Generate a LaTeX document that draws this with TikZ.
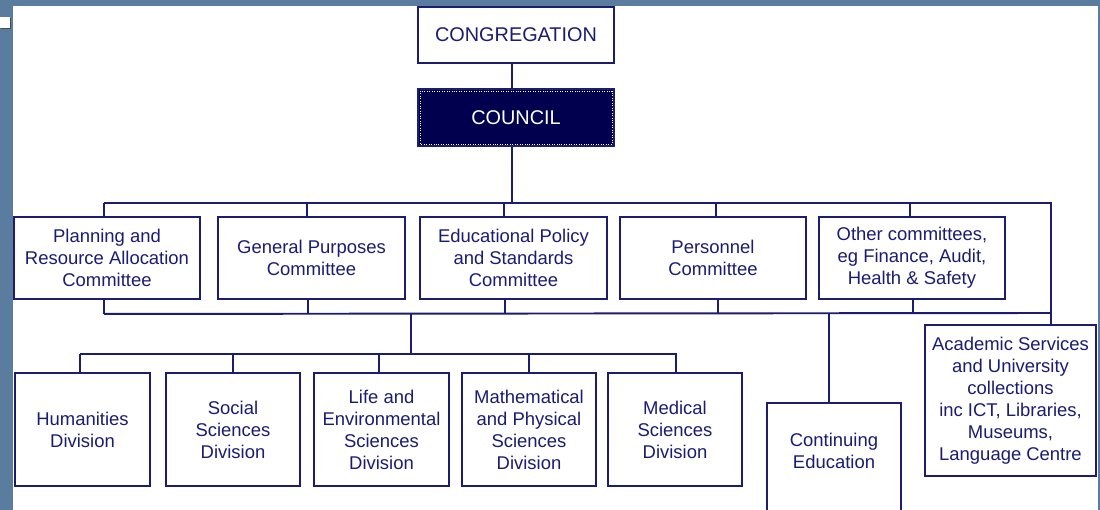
\documentclass[tikz,border=0pt]{standalone}
\usepackage{fontspec}
\setmainfont{Liberation Sans}
\usetikzlibrary{calc}
\definecolor{orgnavy}{RGB}{28,28,112}
\definecolor{councilfill}{RGB}{0,0,78}
\definecolor{slideblue}{RGB}{90,124,158}
\newcommand{\pxu}{0.02cm}

\begin{document}
\begin{tikzpicture}[x=0.02cm,y=-0.02cm]
      \tikzset{unit/.style={draw=orgnavy,
          line width=1.1pt,
          fill=white,
          text=orgnavy,
          align=center,
          inner sep=1pt,
          font=\fontsize{10.5}{12.5}\selectfont},
        committee/.style={unit, minimum width=186*\pxu, minimum height=82*\pxu},
        division/.style={unit, minimum width=134*\pxu, minimum height=113*\pxu},
        link/.style={draw=orgnavy, line width=1.1pt}
      }
      \path [use as bounding box] (0,0) rectangle (1100,510);
      \clip (0,0) rectangle (1100,510);
      % slide background
      \fill [slideblue] (0,0) rectangle (1100,510);
      \fill [white] (13,6) rectangle (1098,510);
      \fill [black!70] (1,18.5) rectangle (11,29);
      \fill [white] (0,17) rectangle (10,28);

      \node [unit, minimum width=196*\pxu, minimum height=56*\pxu, font=\fontsize{11.3}{13}\selectfont] (cong) at (516,35) {CONGREGATION};
      \node [unit, fill=councilfill, text=white, minimum width=196*\pxu, minimum height=57*\pxu, font=\fontsize{11.3}{13}\selectfont] (council) at (516,117.5) {COUNCIL};
      \draw [white, densely dotted, line width=0.4pt] ($(council.north west)+(3,3)$) rectangle ($(council.south east)+(-3,-3)$);

      % committees
      \node [committee] (plan) at (107,258) {Planning and\\Resource Allocation\\Committee};
      \node [committee, minimum width=187*\pxu] (gen) at (311.5,258) {General Purposes\\Committee};
      \node [committee, minimum width=187*\pxu] (edu) at (513.5,258) {Educational Policy\\and Standards\\Committee};
      \node [committee] (pers) at (713,258) {Personnel\\Committee};
      \node [committee] (other) at (912,258) {Other committees,\\eg Finance, Audit,\\Health \& Safety};

      % divisions
      \node [division, minimum width=135*\pxu] (hum) at (82.5,429.5) {Humanities\\Division};
      \node [division] (soc) at (233,429.5) {Social\\Sciences\\Division};
      \node [division, minimum width=135*\pxu] (life) at (381.5,429.5) {Life and\\Environmental\\Sciences\\Division};
      \node [division] (math) at (529,429.5) {Mathematical\\and Physical\\Sciences\\Division};
      \node [division] (med) at (675,429.5) {Medical\\Sciences\\Division};

      \node [unit, minimum width=134*\pxu, minimum height=160*\pxu, anchor=north] (cont) at (834,402) {};
      \node [text=orgnavy, align=center, font=\fontsize{10.5}{12.5}\selectfont] (conttext) at (834,451) {Continuing\\Education};
      \node [unit, minimum width=171*\pxu, minimum height=151*\pxu] (acad) at (1010.5,400.5) {Academic Services\\and University\\collections\\inc ICT, Libraries,\\Museums,\\Language Centre};

      \coordinate (topbus) at (512,204);
      \coordinate (botbus) at (411,313);
      \coordinate (divbus) at (411,355);
      \coordinate (acadin) at ($(acad.north)+(40.5,0)$);

      \draw [link] ($(cong.south)+(-4,0)$) -- ($(council.north)+(-4,0)$);
      \draw [link] ($(council.south)+(-4,0)$) -- (topbus);
      \draw [link] ($(plan.north)+(-3,-13)$) -| (acadin);
      \foreach \n/\dx in {plan/-3,gen/-4.5,edu/-9.5,pers/3,other/-2}
        \draw [link] ($(\n.north)+(\dx,0)$) -- ++(0,-13);
      \draw [link] ($(plan.south)+(-3,14)$) -- (botbus -| acadin);
      \foreach \n/\dx in {plan/-3,gen/-3.5,edu/-8.5,pers/5,other/1}
        \draw [link] ($(\n.south)+(\dx,0)$) -- ++(0,14);
      \draw [link] (botbus) -- (divbus);
      \draw [link] ($(hum.north)+(-2.5,-18)$) -- ($(med.north)+(1,-18)$) -- ($(med.north)+(1,0)$);
      \foreach \n/\dx in {hum/-2.5,soc/0,life/-2.5,math/0}
        \draw [link] ($(\n.north)+(\dx,0)$) -- ++(0,-18);
      \draw [link] ($(cont.north)+(-5,0)$) -- ++(0,-89);

    \end{tikzpicture}
\end{document}
